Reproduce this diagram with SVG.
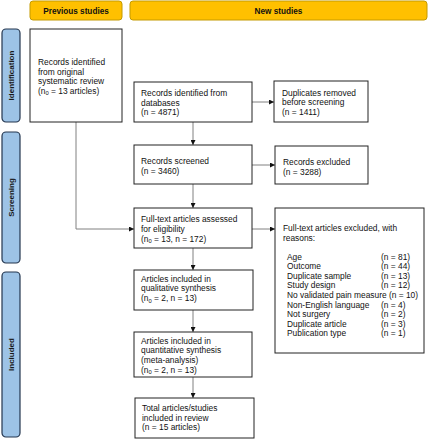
<svg xmlns="http://www.w3.org/2000/svg" width="428" height="440" viewBox="0 0 428 440">
<style>
text{font-family:"Liberation Sans",Arial,sans-serif;font-size:8.4px;fill:#111}
.hdr{fill:#FFC000;stroke:#C49A00;stroke-width:1}
.hdrt{font-weight:bold;font-size:8.2px;text-anchor:middle}
.side{fill:#9DC3E6;stroke:#24364F;stroke-width:1.2}
.sidet{font-weight:bold;font-size:8px;text-anchor:middle;fill:#1a1a1a}
.box{fill:#fff;stroke:#222;stroke-width:1}
.con{fill:none;stroke:#808080;stroke-width:1}
.sub{font-size:5.8px}
</style>
<defs>
<marker id="ah" viewBox="0 0 10 10" refX="10" refY="5" markerWidth="5" markerHeight="5" markerUnits="userSpaceOnUse" orient="auto">
<path d="M0,0 L10,5 L0,10 Z" fill="#111"/>
</marker>
</defs>

<g id="header-previous"><rect class="hdr" x="30" y="1" width="92" height="19" rx="3"/><text class="hdrt" x="76" y="14">Previous studies</text></g>
<g id="header-new"><rect class="hdr" x="130" y="1" width="297" height="19" rx="3"/><text class="hdrt" x="278.5" y="14">New studies</text></g>

<g id="side-identification"><rect class="side" x="2" y="29" width="18" height="93" rx="4"/><text class="sidet" transform="translate(14,75.5) rotate(-90)">Identification</text></g>
<g id="side-screening"><rect class="side" x="2" y="132" width="18" height="131" rx="4"/><text class="sidet" transform="translate(14,197.5) rotate(-90)">Screening</text></g>
<g id="side-included"><rect class="side" x="2" y="272" width="18" height="165" rx="4"/><text class="sidet" transform="translate(14,354.5) rotate(-90)">Included</text></g>

<g id="connectors">
<path class="con" d="M76,122 V229 H134" marker-end="url(#ah)"/>
<path class="con" d="M193,122 V145" marker-end="url(#ah)"/>
<path class="con" d="M252,102 H274" marker-end="url(#ah)"/>
<path class="con" d="M193,184 V208" marker-end="url(#ah)"/>
<path class="con" d="M252,165 H275" marker-end="url(#ah)"/>
<path class="con" d="M252,229 H275" marker-end="url(#ah)"/>
<path class="con" d="M193,248 V270" marker-end="url(#ah)"/>
<path class="con" d="M193,310 V332" marker-end="url(#ah)"/>
<path class="con" d="M193,377 V398" marker-end="url(#ah)"/>
</g>

<g id="box-original"><rect class="box" x="30" y="29" width="92" height="93"/>
<text x="38" y="65">Records identified</text>
<text x="38" y="74.5">from original</text>
<text x="38" y="84">systematic review</text>
<text x="38" y="93.5">(n<tspan class="sub" dy="1.5">0</tspan><tspan dy="-1.5"> = 13 articles)</tspan></text>
</g>

<g id="box-databases"><rect class="box" x="134" y="82" width="118" height="40"/>
<text x="141" y="96">Records identified from</text>
<text x="141" y="105.5">databases</text>
<text x="141" y="115">(n = 4871)</text>
</g>

<g id="box-duplicates"><rect class="box" x="274" y="81" width="94" height="41"/>
<text x="282" y="95.5">Duplicates removed</text>
<text x="282" y="105">before screening</text>
<text x="282" y="114.5">(n = 1411)</text>
</g>

<g id="box-screened"><rect class="box" x="134" y="145" width="118" height="39"/>
<text x="141" y="164">Records screened</text>
<text x="141" y="174">(n = 3460)</text>
</g>

<g id="box-excluded"><rect class="box" x="275" y="146" width="93" height="38"/>
<text x="283" y="165">Records excluded</text>
<text x="283" y="175">(n = 3288)</text>
</g>

<g id="box-fulltext"><rect class="box" x="134" y="208" width="118" height="40"/>
<text x="141" y="222">Full-text articles assessed</text>
<text x="141" y="231.7">for eligibility</text>
<text x="141" y="241.5">(n<tspan class="sub" dy="1.5">0</tspan><tspan dy="-1.5"> = 13, n = 172)</tspan></text>
</g>

<g id="box-fulltext-excluded"><rect class="box" x="275" y="208" width="149" height="145"/>
<text x="283" y="231">Full-text articles excluded, with</text>
<text x="283" y="240.5">reasons:</text>
<text x="287" y="259.6">Age</text><text x="381" y="259.6">(n = 81)</text>
<text x="287" y="269.2">Outcome</text><text x="381" y="269.2">(n = 44)</text>
<text x="287" y="278.8">Duplicate sample</text><text x="381" y="278.8">(n = 13)</text>
<text x="287" y="288.4">Study design</text><text x="381" y="288.4">(n = 12)</text>
<text x="287" y="298">No validated pain measure (n = 10)</text>
<text x="287" y="307.6">Non-English language</text><text x="381" y="307.6">(n = 4)</text>
<text x="287" y="317.2">Not surgery</text><text x="381" y="317.2">(n = 2)</text>
<text x="287" y="326.8">Duplicate article</text><text x="381" y="326.8">(n = 3)</text>
<text x="287" y="336.4">Publication type</text><text x="381" y="336.4">(n = 1)</text>
</g>

<g id="box-qualitative"><rect class="box" x="134" y="270" width="119" height="40"/>
<text x="141" y="281.5">Articles included in</text>
<text x="141" y="291.2">qualitative synthesis</text>
<text x="141" y="301">(n<tspan class="sub" dy="1.5">0</tspan><tspan dy="-1.5"> = 2, n = 13)</tspan></text>
</g>

<g id="box-quantitative"><rect class="box" x="134" y="332" width="118" height="45"/>
<text x="141" y="343.7">Articles included in</text>
<text x="141" y="353.3">quantitative synthesis</text>
<text x="141" y="363">(meta-analysis)</text>
<text x="141" y="372.6">(n<tspan class="sub" dy="1.5">0</tspan><tspan dy="-1.5"> = 2, n = 13)</tspan></text>
</g>

<g id="box-total"><rect class="box" x="135" y="398" width="119" height="40"/>
<text x="142" y="411">Total articles/studies</text>
<text x="142" y="420.7">included in review</text>
<text x="142" y="430.4">(n = 15 articles)</text>
</g>
</svg>
